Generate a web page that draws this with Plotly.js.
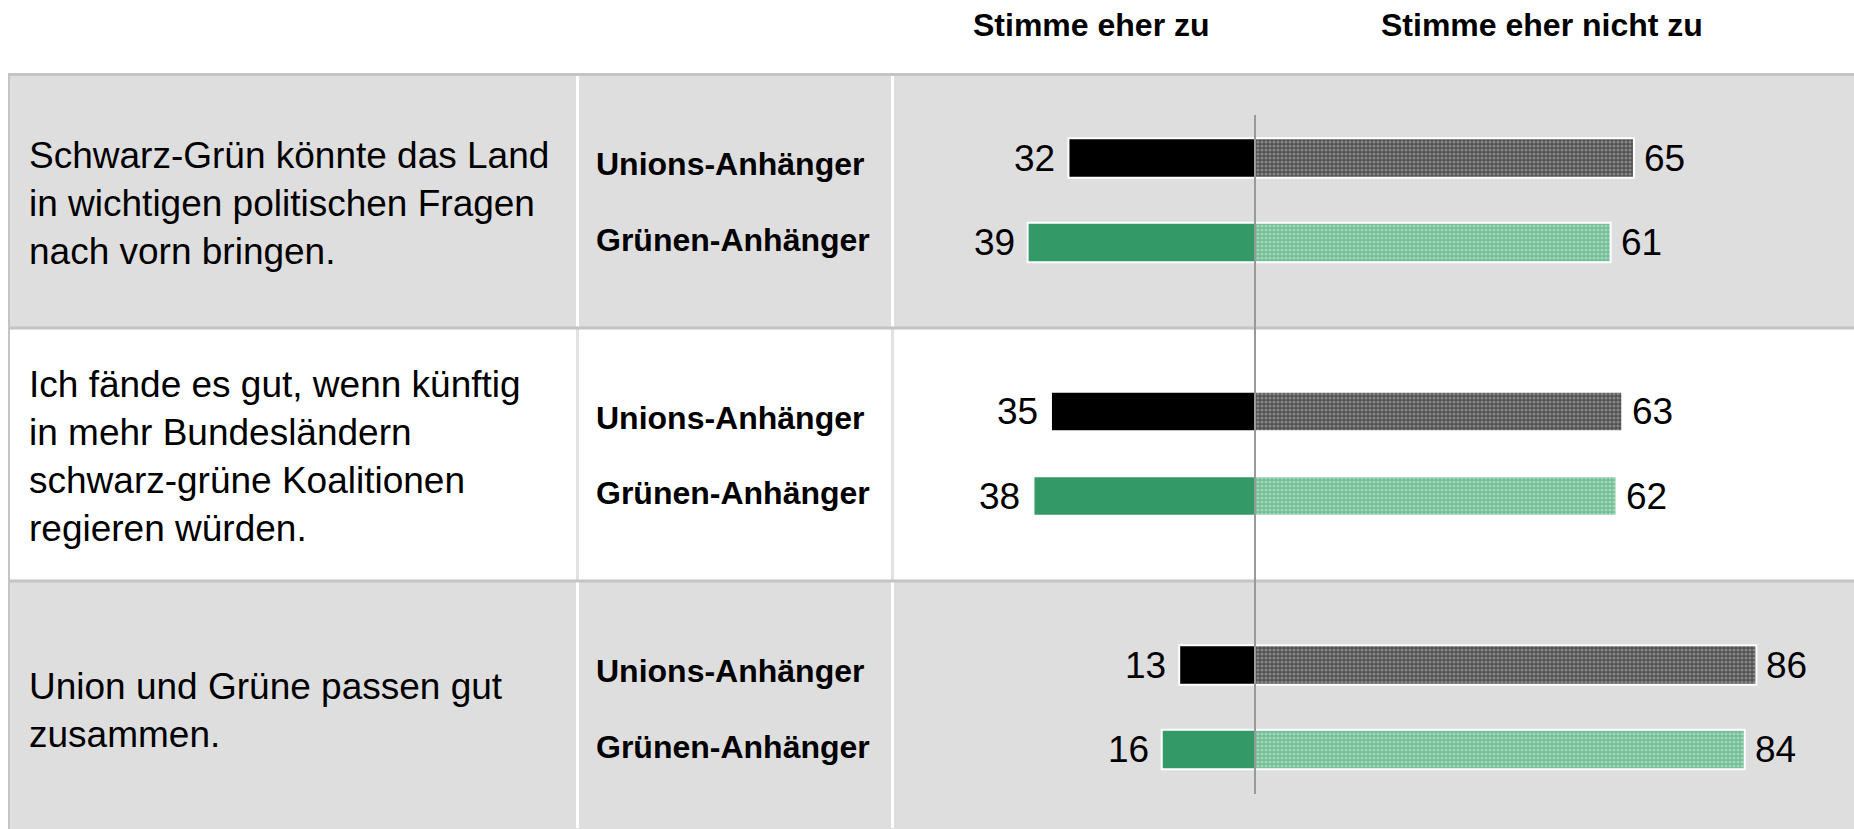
<!DOCTYPE html>
<html>
<head>
<meta charset="utf-8">
<script src="https://cdn.plot.ly/plotly-3.0.1.min.js"></script>
<style>html,body{margin:0;padding:0;background:#fff;}#chart{width:1854px;height:829px;}</style>
</head>
<body>
<div id="chart"></div>
<script>
// ---- data ----
const questions = [
  "Schwarz-Grün könnte das Land<br>in wichtigen politischen Fragen<br>nach vorn bringen.",
  "Ich fände es gut, wenn künftig<br>in mehr Bundesländern<br>schwarz-grüne Koalitionen<br>regieren würden.",
  "Union und Grüne passen gut<br>zusammen."
];
const groups = ["Unions-Anhänger", "Grünen-Anhänger"];
const headers = ["Stimme eher zu", "Stimme eher nicht zu"];
const agreeUnion = [32, 35, 13];
const agreeGreen = [39, 38, 16];
const disagreeUnion = [65, 63, 86];
const disagreeGreen = [61, 62, 84];

// ---- layout helpers ----
const W = 1854, H = 829;
const FONT = "Arial, 'Liberation Sans', sans-serif";
const slotsPerRow = 3;
const yPos = (q, s) => q * slotsPerRow + s;
const py = px => 1 - px / H;   // pixel -> paper y
const pxX = px => px / W;      // pixel -> paper x

const yU = questions.map((_, q) => yPos(q, 0));
const yG = questions.map((_, q) => yPos(q, 1));

const barW = 0.47;
const lineW = {color: "#ffffff", width: 2};

const traces = [
  {type: "bar", orientation: "h", y: yU, x: agreeUnion.map(v => -v), width: barW,
   marker: {color: "#000000", line: lineW}, hoverinfo: "skip", showlegend: false},
  {type: "bar", orientation: "h", y: yG, x: agreeGreen.map(v => -v), width: barW,
   marker: {color: "#339966", line: lineW}, hoverinfo: "skip", showlegend: false},
  {type: "bar", orientation: "h", y: yU, x: disagreeUnion, width: barW,
   marker: {color: "#5a5a5a", line: lineW,
            pattern: {shape: ".", bgcolor: "#505050", fgcolor: "#858585", size: 4, solidity: 0.5}},
   hoverinfo: "skip", showlegend: false},
  {type: "bar", orientation: "h", y: yG, x: disagreeGreen, width: barW,
   marker: {color: "#7cc29e", line: lineW,
            pattern: {shape: ".", bgcolor: "#70bc94", fgcolor: "#a2d6b9", size: 4, solidity: 0.5}},
   hoverinfo: "skip", showlegend: false}
];

// ---- table background ----
const shapes = [];
const rowTop = [75, 328, 581];
const rowBot = [328, 581, 829];
const rowFill = ["#dedede", "#ffffff", "#dedede"];
questions.forEach((_, q) => {
  shapes.push({type: "rect", xref: "paper", yref: "paper", layer: "below",
    x0: pxX(9), x1: 1, y0: py(rowBot[q]), y1: py(rowTop[q]),
    fillcolor: rowFill[q], line: {width: 0}});
  const sepColor = rowFill[q] === "#ffffff" ? "#e2e2e2" : "#ffffff";
  [577.5, 892.5].forEach(cx => shapes.push({type: "line", xref: "paper", yref: "paper", layer: "below",
    x0: pxX(cx), x1: pxX(cx), y0: py(rowBot[q] - 1), y1: py(rowTop[q] + 1),
    line: {color: sepColor, width: 3}}));
});
// horizontal borders
[74.5, 328, 581].forEach(by => shapes.push({type: "line", xref: "paper", yref: "paper", layer: "below",
  x0: pxX(8), x1: 1, y0: py(by), y1: py(by), line: {color: "#c4c4c4", width: 3}}));
// left border
shapes.push({type: "line", xref: "paper", yref: "paper", layer: "below",
  x0: pxX(9), x1: pxX(9), y0: py(74), y1: 0, line: {color: "#c4c4c4", width: 2}});
// zero axis line
shapes.push({type: "line", xref: "x", yref: "paper", layer: "above",
  x0: 0, x1: 0, y0: py(115), y1: py(794), line: {color: "#999999", width: 2}});

// ---- annotations ----
const annotations = [];
headers.forEach((h, i) => annotations.push({
  xref: "paper", yref: "paper", x: pxX([1091, 1542][i]), y: py(25),
  xanchor: "center", yanchor: "middle", showarrow: false, text: "<b>" + h + "</b>",
  font: {family: FONT, size: 32, color: "#000"}}));

questions.forEach((qt, q) => {
  annotations.push({xref: "paper", yref: "y", x: pxX(26.5), y: yPos(q, 0.5), yshift: -3,
    xanchor: "left", yanchor: "middle", align: "left", showarrow: false, text: qt,
    font: {family: FONT, size: 37, color: "#000"}});
  groups.forEach((g, s) => annotations.push({xref: "paper", yref: "y", x: pxX(594), y: yPos(q, s),
    yshift: s === 0 ? -6 : 3,
    xanchor: "left", yanchor: "middle", showarrow: false, text: "<b>" + g + "</b>",
    font: {family: FONT, size: 32, color: "#000"}}));
});

const numFont = {family: FONT, size: 37, color: "#000"};
[[agreeUnion, yU], [agreeGreen, yG]].forEach(([vals, ys]) => vals.forEach((v, i) =>
  annotations.push({xref: "x", yref: "y", x: -v, y: ys[i], xanchor: "right", yanchor: "middle",
    xshift: -11, showarrow: false, text: String(v), font: numFont})));
[[disagreeUnion, yU], [disagreeGreen, yG]].forEach(([vals, ys]) => vals.forEach((v, i) =>
  annotations.push({xref: "x", yref: "y", x: v, y: ys[i], xanchor: "left", yanchor: "middle",
    xshift: 8, showarrow: false, text: String(v), font: numFont})));

// ---- axes ----
const pxPerUnit = 5.83, zeroPx = 1255;
const x0 = -zeroPx / pxPerUnit, x1 = x0 + W / pxPerUnit;
const slotPx = 84.5, firstSlotPx = 158;
const yTop = -firstSlotPx / slotPx, yBottom = yTop + H / slotPx;

const layout = {
  width: W, height: H,
  margin: {l: 0, r: 0, t: 0, b: 0, pad: 0},
  paper_bgcolor: "#ffffff", plot_bgcolor: "rgba(0,0,0,0)",
  barmode: "overlay",
  showlegend: false,
  xaxis: {range: [x0, x1], domain: [0, 1], showgrid: false, zeroline: false,
          showticklabels: false, showline: false, fixedrange: true},
  yaxis: {range: [yBottom, yTop], domain: [0, 1], showgrid: false, zeroline: false,
          showticklabels: false, showline: false, fixedrange: true},
  shapes: shapes,
  annotations: annotations,
  font: {family: FONT}
};

Plotly.newPlot("chart", traces, layout, {staticPlot: true, displayModeBar: false});
</script>
</body>
</html>
